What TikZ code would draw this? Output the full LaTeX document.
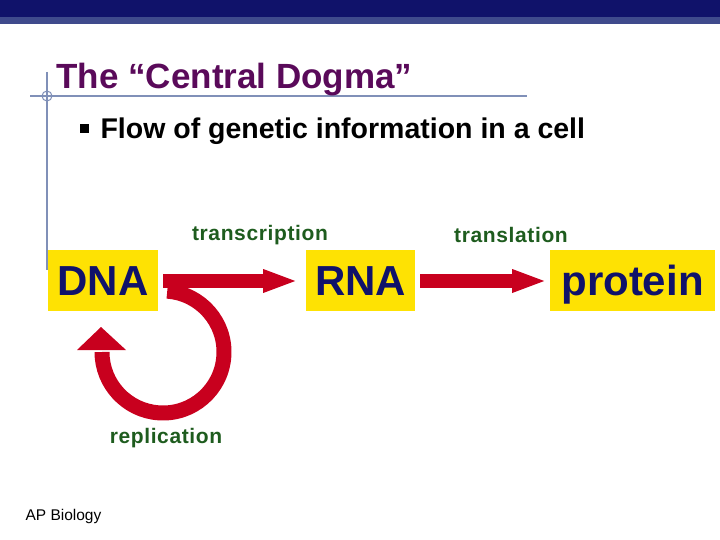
\documentclass[tikz,border=0pt]{standalone}
\usepackage{fontspec}
\setmainfont{Liberation Sans}
\begin{document}
\begin{tikzpicture}[x=1pt,y=-1pt,
  box/.style={fill=ybox, text=navy, font=\bfseries\fontsize{42}{42}\selectfont, inner sep=0pt, text height=30pt, text depth=0pt, minimum height=61pt, anchor=center},
  lbl/.style={text=lblgreen, font=\bfseries\fontsize{21}{21}\selectfont\addfontfeature{LetterSpace=3}},
  arr/.style={draw=red0, line width=14pt}]
\definecolor{navy}{HTML}{10126A}
\definecolor{bar2}{HTML}{3F4A8C}
\definecolor{purp}{HTML}{5A0A5A}
\definecolor{lblgreen}{HTML}{1E5C1E}
\definecolor{red0}{HTML}{C8001E}
\definecolor{lnblue}{HTML}{8090B8}
\colorlet{ybox}{yellow!85!orange}
\useasboundingbox (0,0) rectangle (720,540);
\fill[white] (0,0) rectangle (720,540);
\fill[navy] (0,0) rectangle (720,17);
\fill[bar2] (0,17) rectangle (720,24);
\draw[lnblue,line width=1.5pt] (30,96) -- (527,96);
\draw[lnblue,line width=1.5pt] (47,72) -- (47,270);
\draw[lnblue,line width=1pt] (47,96) circle (5);
\node[anchor=west,text=purp,font=\bfseries\fontsize{35}{35}\selectfont] (title) at (53,80) {The “Central Dogma”};
\node[anchor=west,font=\fontsize{16}{16}\selectfont] (bul) at (76,129) {\rule{9pt}{9pt}};
\node[anchor=west,font=\bfseries\fontsize{28.5}{28.5}\selectfont] (sub) at (97,131) {Flow of genetic information in a cell};
\node[box,minimum width=110pt] (dna) at (103,280) {DNA};
\node[box,minimum width=109pt] (rna) at (360.5,280) {RNA};
\node[box,minimum width=165pt] (prot) at (632.5,280) {protein};
\node[lbl] (tr) at (260,235) {transcription};
\node[lbl] (tl) at (511,235) {translation};
\node[lbl] (rep) at (166,438) {replication};
\node[anchor=west,font=\fontsize{15.5}{15.5}\selectfont] (ap) at (22,516) {AP Biology};
% arrows
\draw[arr] ([xshift=5pt,yshift=-1pt]dna.east) -- ([xshift=107pt,yshift=-1pt]dna.east) coordinate (h1);
\fill[red0] ([xshift=-2pt,yshift=-12pt]h1) -- ([xshift=-2pt,yshift=12pt]h1) -- ([xshift=30pt]h1) -- cycle;
\draw[arr] ([xshift=5pt,yshift=-1pt]rna.east) -- ([xshift=99pt,yshift=-1pt]rna.east) coordinate (h2);
\fill[red0] ([xshift=-2pt,yshift=-12pt]h2) -- ([xshift=-2pt,yshift=12pt]h2) -- ([xshift=30pt]h2) -- cycle;
\coordinate (c) at (163,352);
\draw[arr,line width=15pt] (c) ++(-86:61) arc[start angle=-86, end angle=180, radius=61];
\fill[red0] (77,350) -- (126,350) -- (101,327) -- cycle;
\end{tikzpicture}
\end{document}
